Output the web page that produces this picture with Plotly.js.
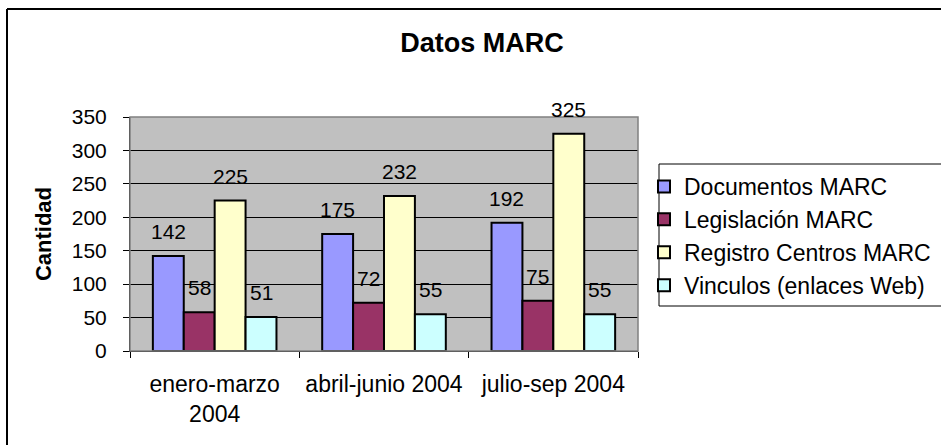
<!DOCTYPE html>
<html>
<head>
<meta charset="utf-8">
<script src="https://cdn.plot.ly/plotly-3.0.1.min.js"></script>
<style>
  html, body { margin: 0; padding: 0; background: #ffffff; }
  #chart { width: 941px; height: 445px; }
</style>
</head>
<body>
<div id="chart"></div>
<script>
// datos
const periodos = ['enero-marzo<br>2004', 'abril-junio 2004', 'julio-sep 2004'];
const documentos = [142, 175, 192];
const legislacion = [58, 72, 75];
const registroCentros = [225, 232, 325];
const vinculos = [51, 55, 55];

const seriesNames = ['Documentos MARC', 'Legislación MARC', 'Registro Centros MARC', 'Vinculos (enlaces Web)'];
const seriesColors = ['#9999FF', '#993366', '#FFFFCC', '#CCFFFF'];
const seriesValues = [documentos, legislacion, registroCentros, vinculos];

const FONT = 'Liberation Sans, Arial, sans-serif';

// posiciones del área de trazado (px)
const L = 130, R = 638, T = 117, B = 351, W = 941, H = 445;
const px = v => (v - L) / (R - L);
const py = v => (B - v) / (B - T);

const BARGAP = 0.27;
const barW = (R - L) / periodos.length * (1 - BARGAP) / seriesValues.length;

const traces = seriesValues.map((vals, i) => ({
  type: 'bar',
  name: seriesNames[i],
  x: periodos,
  y: vals,
  legendgroup: 'g' + i,
  marker: { color: seriesColors[i], line: { color: '#000', width: 2 } },
  hoverinfo: 'x+y+name'
}));

// etiquetas de datos (como en Excel, algo por encima de la barra)
const labels = [];
seriesValues.forEach((vals, i) => {
  vals.forEach((v, j) => {
    labels.push({
      xref: 'x', yref: 'y',
      x: periodos[j], y: v,
      text: String(v),
      showarrow: false,
      xanchor: 'center', yanchor: 'bottom',
      xshift: (i - (seriesValues.length - 1) / 2) * barW,
      yshift: 11,
      font: { family: FONT, size: 21, color: '#000' }
    });
  });
});

const layout = {
  width: W,
  height: H,
  margin: { l: L, r: W - R, t: T, b: H - B, autoexpand: false },
  paper_bgcolor: '#ffffff',
  plot_bgcolor: '#C0C0C0',
  font: { family: FONT },
  barmode: 'group',
  bargap: BARGAP,
  bargroupgap: 0,
  showlegend: true,
  title: {
    text: '<b>Datos MARC</b>',
    font: { family: FONT, size: 27, color: '#000' },
    x: 482 / W, xanchor: 'center', xref: 'container',
    y: 1 - 43 / H, yanchor: 'middle', yref: 'container'
  },
  xaxis: {
    type: 'category',
    showgrid: false,
    showline: true,
    linecolor: '#000',
    linewidth: 1,
    ticks: 'outside',
    tickson: 'boundaries',
    ticklen: 6,
    tickcolor: '#000',
    ticklabelstandoff: 12,
    tickfont: { family: FONT, size: 23, color: '#000' },
    automargin: false,
    fixedrange: true
  },
  yaxis: {
    range: [0, 350],
    dtick: 50,
    showgrid: true,
    gridcolor: '#000',
    gridwidth: 1,
    zeroline: false,
    showline: true,
    linecolor: '#000',
    linewidth: 1,
    ticks: 'outside',
    ticklen: 6,
    tickcolor: '#000',
    ticklabelstandoff: 12,
    tickfont: { family: FONT, size: 21, color: '#000' },
    title: {
      text: '<b>Cantidad</b>',
      font: { family: FONT, size: 22, color: '#000' },
      standoff: 14
    },
    automargin: false,
    fixedrange: true
  },
  legend: {
    x: px(644), xanchor: 'left',
    y: py(165), yanchor: 'top',
    bgcolor: 'rgba(0,0,0,0)',
    borderwidth: 0,
    font: { family: FONT, size: 23, color: '#000' },
    tracegroupgap: 0,
    itemclick: false
  },
  annotations: labels,
  shapes: [
    // borde gris del área de trazado
    { type: 'rect', xref: 'paper', yref: 'paper', x0: 0, x1: 1, y0: 0, y1: 1,
      line: { color: '#808080', width: 1.5 }, layer: 'above' },
    // recuadro de la leyenda
    { type: 'rect', xref: 'paper', yref: 'paper', x0: px(659), x1: px(W + 5), y0: py(164), y1: py(306),
      fillcolor: '#ffffff', line: { color: '#000', width: 1 }, layer: 'below' },
    // marco exterior del gráfico (izquierda y arriba)
    { type: 'line', xref: 'paper', yref: 'paper', x0: px(7), x1: px(7), y0: py(9), y1: py(H + 5),
      line: { color: '#000', width: 2 } },
    { type: 'line', xref: 'paper', yref: 'paper', x0: px(7), x1: px(W + 5), y0: py(9), y1: py(9),
      line: { color: '#000', width: 2 } }
  ]
};

Plotly.newPlot('chart', traces, layout, { displayModeBar: false });
</script>
</body>
</html>
